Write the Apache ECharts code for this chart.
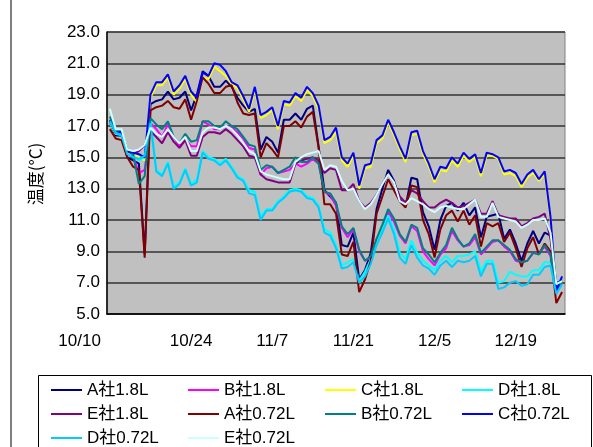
<!DOCTYPE html>
<html>
<head>
<meta charset="utf-8">
<script src="https://cdn.jsdelivr.net/npm/echarts@6/dist/echarts.min.js"></script>
<style>
html,body{margin:0;padding:0;background:#fff;}
#chart{width:593px;height:447px;}
</style>
</head>
<body>
<div id="chart"></div>
<script>
// Daily water temperature readings, 10/10 - 12/27
const dates = [
  '10/10','10/11','10/12','10/13','10/14','10/15','10/16','10/17','10/18','10/19','10/20',
  '10/21','10/22','10/23','10/24','10/25','10/26','10/27','10/28','10/29','10/30','10/31',
  '11/1','11/2','11/3','11/4','11/5','11/6','11/7','11/8','11/9','11/10',
  '11/11','11/12','11/13','11/14','11/15','11/16','11/17','11/18','11/19','11/20',
  '11/21','11/22','11/23','11/24','11/25','11/26','11/27','11/28','11/29','11/30',
  '12/1','12/2','12/3','12/4','12/5','12/6','12/7','12/8','12/9','12/10',
  '12/11','12/12','12/13','12/14','12/15','12/16','12/17','12/18','12/19','12/20',
  '12/21','12/22','12/23','12/24','12/25','12/26','12/27'
];

const seriesNames = ['A社1.8L','B社1.8L','C社1.8L','D社1.8L','E社1.8L',
                     'A社0.72L','B社0.72L','C社0.72L','D社0.72L','E社0.72L'];

const a18 = [17.2,16.4,16.4,15.0,14.8,14.6,8.8,18.4,18.6,18.7,
  19.2,18.7,18.8,19.2,18.0,19.0,20.5,20.2,19.5,19.5,
  19.9,19.5,18.8,18.3,17.9,18.1,15.5,16.3,16.0,15.3,
  17.4,17.4,17.8,17.4,18.1,18.3,15.7,12.9,12.5,12.1,
  9.4,9.3,10.2,7.2,7.8,8.9,11.7,13.0,14.2,13.5,
  12.3,11.9,13.7,13.6,11.5,10.6,9.1,11.0,11.9,12.1,
  11.6,12.1,11.3,11.8,9.9,11.2,11.3,11.4,9.8,10.4,
  9.5,8.4,9.5,10.3,9.5,10.2,10.0,6.8,7.2];

const b18 = [17.3,16.7,16.6,15.4,15.1,14.0,14.2,17.2,16.8,16.3,
  17.1,16.3,15.7,16.2,15.7,15.7,17.3,17.1,16.8,16.8,
  17.0,16.9,16.6,16.2,15.6,15.5,13.9,14.3,14.4,14.0,
  14.1,14.2,14.6,14.4,14.6,14.9,14.6,12.8,12.6,11.9,
  10.5,9.9,10.4,9.0,8.4,8.6,9.8,10.4,11.5,10.9,
  10.0,9.5,10.6,10.3,9.0,8.5,8.1,8.8,9.2,10.3,
  9.7,9.3,9.4,9.9,8.8,9.2,9.6,9.7,9.3,9.0,
  8.4,8.3,8.4,8.9,8.9,9.3,8.7,6.5,7.0];

const c18 = [17.2,16.5,16.5,15.3,15.2,15.0,14.8,18.8,19.6,19.6,
  20.1,19.0,19.4,20.0,19.0,18.5,20.1,20.0,20.8,20.5,
  20.2,19.7,19.4,18.7,17.9,19.3,17.5,17.7,18.0,16.8,
  18.4,18.3,18.9,18.6,19.3,18.9,18.1,15.9,16.1,16.6,
  14.8,14.4,15.1,13.0,14.3,14.4,15.9,16.2,17.2,16.4,
  15.5,14.7,16.4,16.5,15.2,14.4,13.4,14.2,14.1,14.8,
  14.4,15.1,14.7,15.0,13.8,15.1,15.1,14.9,13.9,14.0,
  13.8,13.1,13.7,14.0,13.5,13.9,11.0,6.6,7.2];

const d18 = [17.2,16.5,16.4,15.2,15.1,14.8,15.0,17.4,14.2,13.9,
  14.7,13.1,13.4,14.3,13.3,13.6,15.4,15.0,14.9,14.6,
  14.9,14.4,13.8,13.6,12.9,12.8,11.2,11.7,11.7,12.2,
  12.5,12.9,13.0,12.9,12.5,12.4,11.9,10.4,10.2,9.4,
  8.1,8.3,8.5,7.1,7.7,8.5,9.7,10.4,11.3,10.4,
  8.9,8.5,9.7,8.9,8.4,8.1,7.8,8.4,8.7,8.3,
  8.7,8.7,8.8,9.0,7.7,8.4,8.4,7.0,7.1,7.7,
  7.5,7.4,7.4,7.8,7.8,8.3,8.3,6.9,7.3];

const e18 = [17.4,16.6,16.6,15.4,15.2,15.4,15.8,16.7,16.3,15.9,
  16.6,16.0,15.6,16.1,15.1,15.1,16.3,16.6,16.6,16.5,
  16.8,16.5,16.1,15.7,15.1,15.0,13.9,13.6,13.5,13.4,
  13.4,13.4,14.6,14.8,14.9,15.0,14.8,14.0,14.3,14.2,
  12.9,12.9,13.3,12.2,11.8,12.1,12.6,13.3,13.9,13.4,
  12.5,12.1,12.9,12.7,12.2,11.8,11.8,12.1,12.3,12.1,
  11.8,11.9,12.1,12.3,11.4,11.4,12.2,11.3,11.2,11.1,
  11.1,10.6,10.8,11.1,11.2,11.4,9.8,7.0,7.1];

const a072 = [16.8,16.2,16.1,15.0,14.4,14.2,8.6,18.0,18.2,18.3,
  18.6,18.2,18.1,18.7,17.4,18.6,20.1,19.7,19.1,19.1,
  19.5,19.6,18.5,17.8,17.7,17.8,15.0,15.9,15.5,15.0,
  17.0,17.0,17.3,16.9,17.6,17.9,15.6,12.0,12.0,11.4,
  8.8,8.7,9.6,6.4,7.2,8.4,11.4,12.5,13.6,12.9,
  12.2,11.8,13.2,13.1,11.0,10.1,8.6,10.4,11.3,11.6,
  10.9,11.6,10.7,11.3,9.3,10.8,10.6,10.8,9.6,10.2,
  9.2,8.0,9.2,9.9,8.8,9.5,9.0,5.7,6.4];

const b072 = [17.6,16.7,16.7,15.5,15.2,13.3,13.8,17.5,17.1,16.8,
  17.3,16.3,15.9,16.5,16.0,16.1,17.3,17.3,17.0,16.9,
  17.3,17.0,16.8,16.3,15.8,15.7,14.2,14.5,14.4,14.0,
  14.2,14.4,15.0,14.7,14.7,15.0,14.6,12.8,12.7,12.1,
  10.6,10.1,10.5,9.1,8.4,8.7,9.8,10.7,11.7,11.1,
  10.1,9.6,10.7,10.5,9.2,8.8,8.3,8.9,9.4,10.5,
  9.8,9.3,9.5,10.1,8.9,9.3,9.7,9.7,9.4,9.1,
  8.5,8.3,8.4,8.9,8.8,9.4,8.8,6.4,7.0];

const c072 = [17.3,16.6,16.6,15.4,15.3,15.2,15.0,19.0,19.8,19.8,
  20.3,19.2,19.6,20.2,19.2,18.8,20.4,20.2,21.0,20.9,
  20.5,19.8,19.6,18.9,18.1,19.5,17.7,17.9,18.2,17.0,
  18.6,18.5,19.1,18.8,19.5,19.1,18.3,16.1,16.3,16.9,
  15.0,14.6,15.3,13.2,14.5,14.6,16.1,16.4,17.4,16.6,
  15.7,14.9,16.6,16.7,15.4,14.6,13.6,14.4,14.3,15.0,
  14.6,15.3,14.9,15.2,14.0,15.3,15.2,15.0,14.1,14.2,
  14.0,13.3,13.9,14.2,13.6,14.1,11.2,6.5,7.4];

const d072 = [17.3,16.6,16.4,15.2,15.0,14.9,15.1,17.2,14.1,13.8,
  14.6,13.0,13.3,14.2,13.2,13.4,15.3,14.9,14.8,14.5,
  14.8,14.3,13.7,13.5,12.7,12.6,11.0,11.6,11.6,12.1,
  12.4,12.8,12.9,12.8,12.4,12.3,11.8,10.2,10.0,9.2,
  7.9,8.0,8.3,7.0,7.4,8.2,9.4,10.2,11.1,10.1,
  8.6,8.2,9.4,8.6,8.1,7.9,7.5,8.1,8.4,8.0,
  8.4,8.3,8.4,8.7,7.4,8.2,8.2,6.6,6.7,7.0,
  7.1,6.8,6.9,7.5,7.5,8.0,8.1,6.3,6.9];

const e072 = [18.1,16.8,16.8,15.5,15.4,15.5,15.8,16.9,16.5,16.3,
  16.8,16.3,15.9,16.3,15.4,15.4,16.6,16.9,16.9,16.8,
  17.0,16.8,16.4,15.9,15.4,15.2,14.1,13.9,13.8,13.7,
  13.6,13.6,14.7,15.0,15.2,15.3,15.4,14.2,14.5,14.4,
  13.5,12.9,13.0,12.2,11.7,12.0,12.6,13.3,13.9,13.4,
  12.2,12.0,12.4,12.2,12.0,11.7,11.5,11.8,11.9,11.8,
  11.7,11.7,12.0,12.3,11.2,11.2,12.1,11.2,11.1,11.0,
  10.9,10.5,10.7,11.0,11.0,11.1,10.2,6.9,7.1];

const seriesValues = [a18, b18, c18, d18, e18, a072, b072, c072, d072, e072];
const seriesColors = ['#000080','#FF00FF','#FFFF00','#00FFFF','#800080',
                      '#800000','#008080','#0000FF','#00CCFF','#CCFFFF'];

const legendRows = [
  ['A社1.8L','B社1.8L','C社1.8L','D社1.8L'],
  ['E社1.8L','A社0.72L','B社0.72L','C社0.72L'],
  ['D社0.72L','E社0.72L']
];

const FONT = "'Liberation Sans','Noto Sans CJK JP',sans-serif";
const chart = echarts.init(document.getElementById('chart'), null, {renderer: 'canvas'});

// one legend per row so the four columns line up
const legends = legendRows.map((row, r) => ({
  data: row,
  left: 51,
  top: 381 + r * 24,
  width: 560,
  padding: 0,
  orient: 'horizontal',
  itemWidth: 31,
  itemHeight: 14,
  itemGap: 8,
  icon: 'path://M0,6 L31,6 L31,8 L0,8 Z',
  textStyle: {fontFamily: FONT, fontSize: 17, color: '#000', width: 93, lineHeight: 18}
}));

chart.setOption({
  animation: false,
  backgroundColor: '#fff',
  grid: {left: 107, top: 32, width: 458, height: 282, show: true,
         backgroundColor: '#C0C0C0', borderColor: '#808080', borderWidth: 1},
  legend: legends,
  xAxis: {
    type: 'category', data: dates, boundaryGap: true,
    axisLine: {lineStyle: {color: '#000', width: 1.5}},
    axisTick: {interval: 13, inside: true, length: 5, lineStyle: {color: '#000', width: 1.5}},
    axisLabel: {
      interval: 13, margin: 19, fontSize: 17, color: '#000', fontFamily: FONT,
      alignMinLabel: 'right',
      // first date sits just left of the axis start
      formatter: (v, i) => i === 0 ? '{first|' + v + '}' : v,
      rich: {first: {fontSize: 17, fontFamily: FONT, color: '#000', padding: [0, 9, 0, 0]}}
    },
    splitLine: {show: false}
  },
  yAxis: {
    type: 'value', min: 5, max: 23, interval: 2,
    axisLine: {show: true, lineStyle: {color: '#000', width: 1.5}},
    axisTick: {show: false},
    axisLabel: {formatter: v => v.toFixed(1), fontSize: 17, margin: 7, color: '#000', fontFamily: FONT},
    splitLine: {show: true, lineStyle: {color: '#333', width: 1.5}}
  },
  series: seriesNames.map((name, i) => ({
    name, type: 'line', data: seriesValues[i], symbol: 'none',
    itemStyle: {color: seriesColors[i]},
    lineStyle: {color: seriesColors[i], width: 2},
    emphasis: {disabled: true}
  })),
  graphic: [
    {type: 'line', shape: {x1: 11, y1: 0, x2: 11, y2: 447}, style: {stroke: '#000', lineWidth: 1}},
    {type: 'rect', shape: {x: 38.5, y: 375.5, width: 553, height: 90}, style: {fill: 'none', stroke: '#000', lineWidth: 1}},
    {type: 'text', x: 36, y: 174, rotation: Math.PI / 2,
     style: {text: '温度(°C)', font: "17px 'Noto Sans CJK JP', sans-serif", fill: '#000',
             align: 'center', verticalAlign: 'middle'}}
  ]
});
</script>
</body>
</html>
